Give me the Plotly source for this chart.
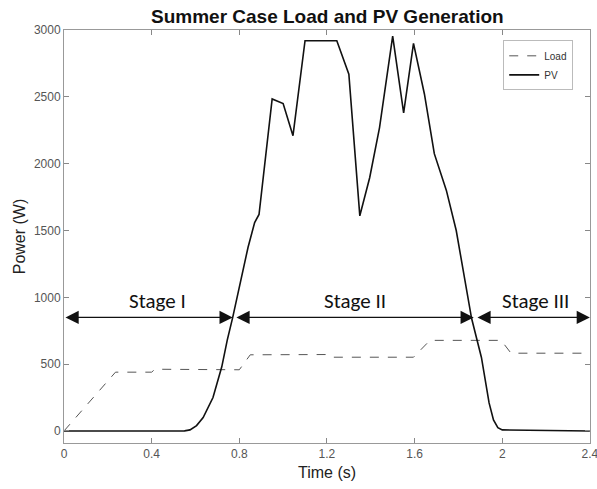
import plotly.graph_objects as go

# PV generation (time s, power W)
pv_t = [0.0, 0.50, 0.55, 0.575, 0.605, 0.635, 0.68, 0.72, 0.745, 0.77, 0.80, 0.84, 0.87, 0.89,
        0.95, 1.00, 1.045, 1.10, 1.245, 1.30, 1.35, 1.395, 1.44, 1.50, 1.55, 1.595, 1.645,
        1.69, 1.745, 1.79, 1.86, 1.905, 1.94, 1.96, 1.98, 2.0, 2.4]
pv_p = [0, 0, 1, 8, 40, 100, 250, 480, 680, 850, 1080, 1375, 1560, 1620,
        2485, 2450, 2210, 2920, 2920, 2670, 1610, 1895, 2270, 2955, 2380, 2900, 2520,
        2075, 1800, 1500, 843, 550, 210, 82, 25, 8, 0]

# Load (time s, power W)
load_t = [0.0, 0.235, 0.40, 0.415, 0.80, 0.85, 1.20, 1.22, 1.595, 1.67, 1.995, 2.04, 2.4]
load_p = [0, 440, 440, 462, 458, 570, 572, 552, 552, 678, 678, 582, 582]

# Stage annotations
stage_labels = ["Stage I", "Stage II", "Stage III"]
stage_start = [0.0, 0.78, 1.88]
stage_end = [0.77, 1.87, 2.4]
stage_text_x = [0.425, 1.33, 2.15]
arrow_y = 850
label_y = 975

x_ticks = [0, 0.4, 0.8, 1.2, 1.6, 2, 2.4]
x_tick_text = ["0", "0.4", "0.8", "1.2", "1.6", "2", "2.4"]
y_ticks = [0, 500, 1000, 1500, 2000, 2500, 3000]

fig = go.Figure()
fig.add_trace(go.Scatter(x=load_t, y=load_p, mode="lines", name="Load",
                         line=dict(color="#555555", width=1, dash="dash")))
fig.add_trace(go.Scatter(x=pv_t, y=pv_p, mode="lines", name="PV",
                         line=dict(color="#111111", width=1.6)))

for lab, s, e, tx in zip(stage_labels, stage_start, stage_end, stage_text_x):
    fig.add_annotation(x=e, y=arrow_y, ax=s, ay=arrow_y, xref="x", yref="y",
                       axref="x", ayref="y", text="", showarrow=True,
                       arrowhead=2, arrowside="end+start", arrowsize=2.2,
                       arrowwidth=1.2, arrowcolor="#111111")
    fig.add_annotation(x=tx, y=label_y, xref="x", yref="y", text=lab,
                       showarrow=False,
                       font=dict(family="Carlito, Lato, sans-serif", size=21, color="#111111"))

axis_common = dict(showline=True, linecolor="#999999", linewidth=1, mirror="ticks",
                   ticks="inside", ticklen=5, tickcolor="#888888", showgrid=False,
                   zeroline=False, ticklabeloverflow="allow", automargin=False,
                   tickfont=dict(family="Liberation Sans, Arial", size=12, color="#555555"))

fig.update_layout(
    width=597, height=489,
    margin=dict(l=64, r=7, t=30, b=46),
    paper_bgcolor="white", plot_bgcolor="white",
    title=dict(text="<b>Summer Case Load and PV Generation</b>", x=0.5483, xanchor="center",
               y=0.966, yanchor="middle",
               font=dict(family="Liberation Sans, Arial", size=19, color="#111111")),
    xaxis=dict(range=[0, 2.4005], tickvals=x_ticks, ticktext=x_tick_text,
               title=dict(text="Time (s)", standoff=6,
                          font=dict(family="Liberation Sans, Arial", size=16, color="#222222")),
               **axis_common),
    yaxis=dict(range=[-90, 3000.5], tickvals=y_ticks,
               title=dict(text="Power (W)", standoff=4,
                          font=dict(family="Liberation Sans, Arial", size=16, color="#222222")),
               **axis_common),
    legend=dict(x=0.835, y=0.975, xanchor="left", yanchor="top",
                bordercolor="#bbbbbb", borderwidth=1, bgcolor="white",
                font=dict(family="Liberation Sans, Arial", size=10, color="#333333"),
                tracegroupgap=0, itemwidth=30),
    showlegend=True,
)

fig.write_html("out.html")
